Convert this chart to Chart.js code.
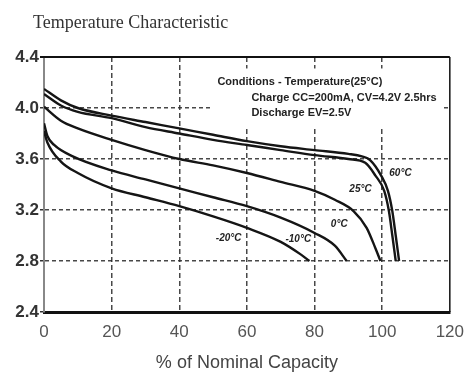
<!DOCTYPE html>
<html>
<head>
<meta charset="utf-8">
<script src="https://cdn.jsdelivr.net/npm/chart.js@4/dist/chart.umd.min.js"></script>
<style>
  html, body { margin: 0; padding: 0; background: #fff; }
  #wrap { width: 474px; height: 374px; }
</style>
</head>
<body>
<div id="wrap"><canvas id="chart" width="474" height="374"></canvas></div>
<script>
// discharge curves, % of nominal capacity vs cell voltage (V)
const cap60 = [0, 5, 10, 20, 30, 40, 50, 60, 70, 80, 90, 94, 96.5, 99.7, 101.7, 103, 104, 105];
const volt60 = [4.15, 4.06, 4.00, 3.94, 3.89, 3.84, 3.79, 3.74, 3.70, 3.67, 3.64, 3.62, 3.59, 3.47, 3.35, 3.19, 3.00, 2.80];

const cap25 = [0, 5, 10, 20, 30, 40, 50, 60, 70, 80, 90, 95, 98, 100.6, 102, 103, 104];
const volt25 = [4.11, 4.02, 3.97, 3.92, 3.85, 3.80, 3.75, 3.71, 3.67, 3.63, 3.60, 3.57, 3.47, 3.35, 3.19, 3.00, 2.80];

const cap0 = [0, 5, 10, 20, 30, 40, 50, 60, 70, 80, 86, 91.6, 95.4, 98, 99.5];
const volt0 = [4.01, 3.90, 3.84, 3.75, 3.67, 3.60, 3.55, 3.49, 3.42, 3.35, 3.28, 3.19, 3.06, 2.90, 2.80];

const capM10 = [0, 1, 3, 8.5, 20, 30, 40, 50, 60, 70, 80, 86, 89.5];
const voltM10 = [3.88, 3.78, 3.71, 3.62, 3.51, 3.44, 3.37, 3.30, 3.23, 3.14, 3.02, 2.92, 2.80];

const capM20 = [0, 1, 5, 10, 20, 30, 40, 50, 60, 70, 76, 78.5];
const voltM20 = [3.82, 3.73, 3.58, 3.49, 3.37, 3.30, 3.23, 3.15, 3.06, 2.95, 2.85, 2.80];

const seriesNames = ['60°C', '25°C', '0°C', '-10°C', '-20°C'];
const xTicks = [0, 20, 40, 60, 80, 100, 120];
const yTicks = [2.4, 2.8, 3.2, 3.6, 4.0, 4.4];

const conditions = [
  'Conditions - Temperature(25°C)',
  'Charge CC=200mA, CV=4.2V 2.5hrs',
  'Discharge EV=2.5V'
];

const toPoints = (xs, ys) => xs.map((x, i) => ({ x, y: ys[i] }));

const curves = [
  toPoints(cap60, volt60),
  toPoints(cap25, volt25),
  toPoints(cap0, volt0),
  toPoints(capM10, voltM10),
  toPoints(capM20, voltM20)
];

// where each curve label sits (data units)
const labelSpots = [[105.4, 3.49], [93.6, 3.36], [87.3, 3.09], [75.2, 2.97], [54.6, 2.98]];

const innerGrid = (ctx, count) =>
  (ctx.index === 0 || ctx.index === count - 1) ? 'rgba(0,0,0,0)' : 'rgba(40,40,40,0.85)';

// title, frame, conditions box and curve labels
const decorations = {
  id: 'decorations',
  beforeDatasetsDraw(chart) {
    const { ctx, chartArea: a, scales: { x, y } } = chart;
    // white box behind the test conditions hides the grid there
    const bx = x.getPixelForValue(49.5);
    const by = y.getPixelForValue(4.31);
    ctx.save();
    ctx.fillStyle = '#fff';
    ctx.fillRect(bx, by, x.getPixelForValue(118.2) - bx, y.getPixelForValue(3.85) - by);
    ctx.fillStyle = '#222';
    ctx.font = 'bold 11px "Liberation Sans", Arial, sans-serif';
    ctx.textBaseline = 'middle';
    ctx.fillText(conditions[0], bx + 6, by + 13);
    ctx.fillText(conditions[1], bx + 40, by + 29);
    ctx.fillText(conditions[2], bx + 40, by + 44);
    ctx.restore();
  },
  afterDraw(chart) {
    const { ctx, chartArea: a, scales: { x, y } } = chart;
    ctx.save();
    // top + right frame
    ctx.strokeStyle = '#111';
    ctx.lineWidth = 2;
    ctx.beginPath();
    ctx.moveTo(a.left - 4, a.top);
    ctx.lineTo(a.right, a.top);
    ctx.stroke();
    ctx.lineWidth = 1.5;
    ctx.beginPath();
    ctx.moveTo(a.right, a.top);
    ctx.lineTo(a.right, a.bottom);
    ctx.stroke();

    // chart heading
    ctx.fillStyle = '#333';
    ctx.font = '18px "Liberation Serif", "Times New Roman", serif';
    ctx.textBaseline = 'middle';
    ctx.fillText('Temperature Characteristic', 33, 23);

    // curve labels
    ctx.font = 'italic bold 10px "Liberation Sans", Arial, sans-serif';
    ctx.textAlign = 'center';
    ctx.fillStyle = '#222';
    labelSpots.forEach(([lx, ly], i) => {
      ctx.fillText(seriesNames[i], x.getPixelForValue(lx), y.getPixelForValue(ly));
    });
    ctx.restore();
  }
};

new Chart(document.getElementById('chart'), {
  type: 'line',
  data: {
    datasets: curves.map((pts, i) => ({
      label: seriesNames[i],
      data: pts,
      borderColor: '#151515',
      borderWidth: 2.4,
      pointRadius: 0,
      fill: false,
      cubicInterpolationMode: 'monotone'
    }))
  },
  options: {
    responsive: false,
    animation: false,
    layout: { padding: { top: 57, right: 16, bottom: 0, left: 0 } },
    plugins: {
      legend: { display: false },
      tooltip: { enabled: false }
    },
    scales: {
      x: {
        type: 'linear',
        min: xTicks[0],
        max: xTicks[xTicks.length - 1],
        afterBuildTicks: s => { s.ticks = xTicks.map(v => ({ value: v })); },
        ticks: {
          padding: 10,
          color: '#555',
          font: { family: '"Liberation Sans", Arial, sans-serif', size: 17 }
        },
        grid: {
          color: ctx => innerGrid(ctx, xTicks.length),
          lineWidth: 1.5,
          drawTicks: false
        },
        border: { display: true, color: '#111', width: 3, dash: [5, 3] },
        title: {
          display: true,
          text: '% of Nominal Capacity',
          color: '#444',
          font: { family: '"Liberation Sans", Arial, sans-serif', size: 18 },
          padding: { top: 0, bottom: 0 }
        },
        afterFit: s => { s.height = 62; }
      },
      y: {
        type: 'linear',
        min: yTicks[0],
        max: yTicks[yTicks.length - 1],
        afterBuildTicks: s => { s.ticks = yTicks.map(v => ({ value: v })); },
        ticks: {
          padding: 1,
          color: '#333',
          callback: v => v.toFixed(1),
          font: { family: '"Liberation Sans", Arial, sans-serif', size: 17, weight: 'bold' }
        },
        grid: {
          color: ctx => innerGrid(ctx, yTicks.length),
          lineWidth: 1.5,
          tickLength: 4,
          tickColor: '#333'
        },
        border: { display: true, color: '#888', width: 2, dash: [4, 3] },
        afterFit: s => { s.width = 44; }
      }
    }
  },
  plugins: [decorations]
});
</script>
</body>
</html>
